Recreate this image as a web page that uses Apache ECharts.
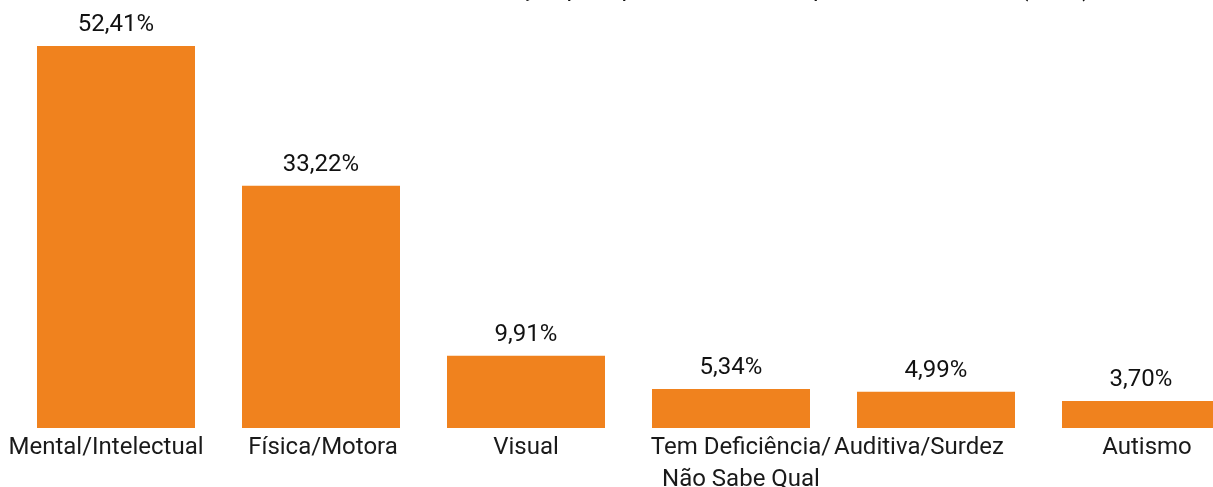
<!DOCTYPE html>
<html>
<head>
<meta charset="utf-8">
<style>html,body{margin:0;padding:0;background:#fff;overflow:hidden}#c{width:1213px;height:487px}</style>
<script src="https://cdn.jsdelivr.net/npm/echarts@6/dist/echarts.min.js"></script>
</head>
<body>
<div id="c"></div>
<script>
const categories = ['Mental/Intelectual', 'Física/Motora', 'Visual', 'Tem Deficiência/\nNão Sabe Qual', 'Auditiva/Surdez', 'Autismo'];
const values = [52.41, 33.22, 9.91, 5.34, 4.99, 3.70];
const titleText = 'Distribuição por tipo de deficiência, pessoas atendidas (2021)';

// horizontal nudges of the category labels as they sit in the reference (px)
const labelShift = [-10, 2, 0, 10, -17, 6];

const axisData = categories.map((c, i) => {
  const s = labelShift[i];
  return {value: c, textStyle: {padding: s >= 0 ? [0, 0, 0, 2 * s] : [0, -2 * s, 0, 0]}};
});

const chart = echarts.init(document.getElementById('c'), null, {renderer: 'canvas'});
chart.setOption({
  animation: false,
  backgroundColor: '#ffffff',
  title: {
    text: titleText,
    left: 428,
    top: -27,
    textStyle: {fontFamily: 'Roboto', fontSize: 24, fontWeight: 'normal', color: '#111'}
  },
  grid: {left: 13.5, top: 27.1, bottom: 59, right: -30.5, containLabel: false, outerBoundsMode: 'none'},
  xAxis: {
    type: 'category',
    data: axisData,
    axisLine: {show: false},
    axisTick: {show: false},
    axisLabel: {
      interval: 0,
      hideOverlap: false,
      margin: 4,
      fontFamily: 'Roboto',
      fontSize: 24,
      color: '#1a1a1a',
      lineHeight: 32,
      verticalAlign: 'top'
    }
  },
  yAxis: {
    type: 'value',
    min: 0,
    max: 55,
    show: false,
    splitLine: {show: false}
  },
  series: [{
    type: 'bar',
    data: values,
    barWidth: 158,
    itemStyle: {color: '#F0821E'},
    label: {
      show: true,
      position: 'top',
      distance: 9,
      fontFamily: 'Roboto',
      fontSize: 24,
      color: '#111',
      formatter: p => p.value.toFixed(2).replace('.', ',') + '%'
    }
  }]
});
</script>
</body>
</html>
